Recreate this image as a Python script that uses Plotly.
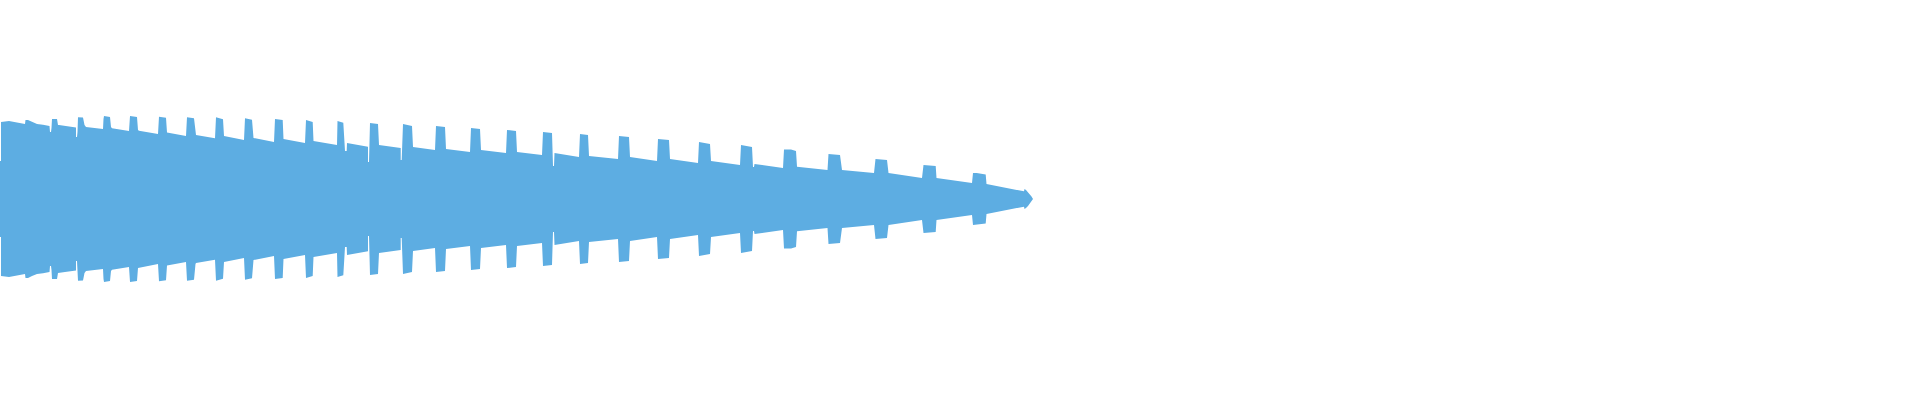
import plotly.graph_objects as go

# outline of the shape: position along the axis and half-width at that position
# (right half of the plot is empty)
x_vals = [
    0, 1, 1, 9, 25,
    25.5, 28, 32, 37, 43, 49.5, 50, 51, 51.5, 52, 57, 58, 59, 65, 76,
    76, 77, 77.5, 78, 83, 84.5, 86, 103,
    103.5, 104, 110, 111, 112, 129,
    130, 137, 138, 139, 158,
    159, 166, 167, 186,
    187, 194, 195.5, 196, 215,
    216, 223, 224, 244,
    245, 252, 253.5, 274,
    275, 282.7, 283.5, 305,
    306, 312.7, 313.5, 337,
    337.5, 343.3, 344.5, 345, 346.7, 347, 368,
    368, 369, 370, 378, 379, 400.7,
    400.7, 401.7, 403, 412, 413, 435,
    436, 445, 446, 470,
    471, 480, 481, 506,
    507, 516, 517, 542,
    543, 552, 553, 554, 554.5, 579,
    580, 588, 589, 618,
    619, 629, 630, 657,
    658, 669, 670, 698,
    699, 710, 711, 740,
    741, 752, 753, 754, 754.5, 783,
    784, 791, 796, 797, 827.5,
    828.5, 840, 842, 874,
    875.5, 887, 888.5, 922,
    923.5, 935.7, 936.5, 972,
    973, 976.7, 985.7, 986.5, 1024,
    1024.5, 1026, 1028, 1030, 1031.5, 1033,
]
half_width = [
    38, 38, 77, 78, 75,
    79, 79, 77, 75, 74.3, 73, 67, 67, 71, 80, 80, 74, 74, 73, 71.5,
    62, 62, 67, 81.7, 81.5, 74, 72, 70,
    80, 83, 82, 72, 70.7, 68,
    83, 82, 69, 68.3, 65,
    82.3, 81.3, 66.5, 63,
    81.7, 80.7, 65, 64, 60.7,
    81.7, 79.7, 63, 59,
    80.7, 79.3, 61, 57,
    80, 79, 60, 56,
    79, 77, 58, 54,
    78, 76.3, 56, 48, 48, 56, 52.3,
    37, 37, 76, 75, 54, 51,
    39, 39, 75, 73, 52, 49,
    73, 72, 50, 47,
    71, 70, 49, 46,
    69, 68, 47, 44,
    67, 66, 33, 33, 46, 42,
    65, 64, 43, 40,
    63, 62, 42, 38,
    60, 59, 40, 36,
    57, 55, 38, 34,
    54, 52, 32, 32, 35, 31,
    49.5, 49.5, 48, 32.3, 29,
    45, 44, 29, 26,
    40, 39, 26, 21,
    34, 33, 21, 16,
    26, 26, 24.5, 15, 7.7,
    10, 9, 7, 5, 2.5, 0,
]

# mirror the outline below zero and close it
xs = x_vals + x_vals[::-1]
ys = half_width + [-v for v in half_width[::-1]]

fig = go.Figure(go.Scatter(
    x=xs,
    y=ys,
    mode="lines",
    fill="toself",
    fillcolor="#5dade2",
    line=dict(color="#5dade2", width=0),
    hoverinfo="skip",
))

fig.update_layout(
    width=1920,
    height=400,
    margin=dict(l=0, r=0, t=0, b=0),
    paper_bgcolor="white",
    plot_bgcolor="white",
    showlegend=False,
    xaxis=dict(range=[0, 1920], visible=False),
    yaxis=dict(range=[-201, 199], visible=False),
)

# the page body has a default margin, drop it so the figure sits at the corner
fig.write_html(
    "out.html",
    config={"displayModeBar": False},
    post_script="document.body.style.margin='0';",
)
